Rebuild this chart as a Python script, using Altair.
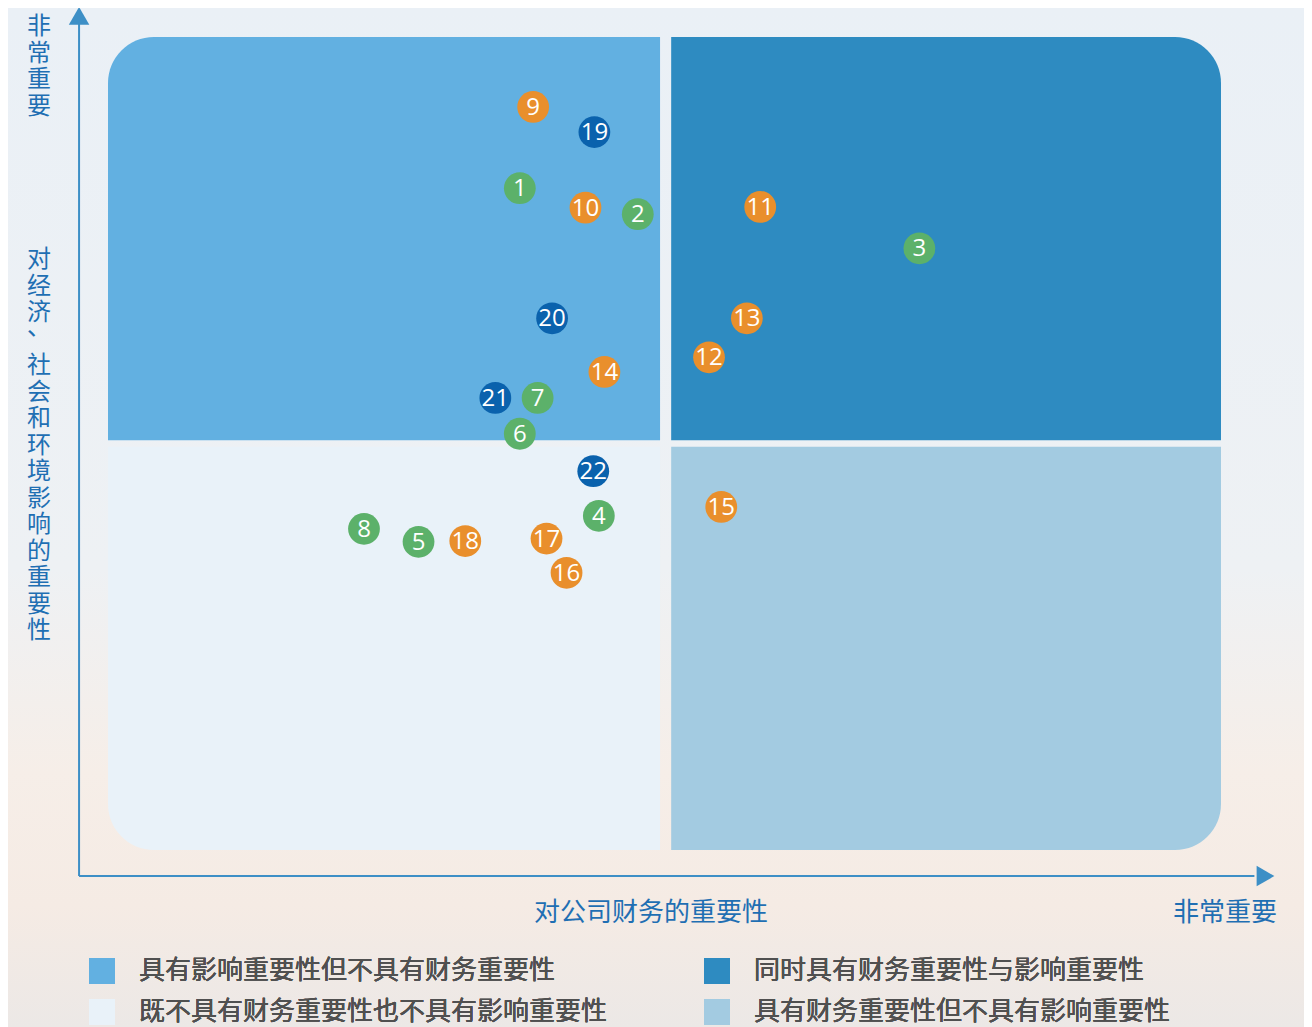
import altair as alt
import pandas as pd

# ---- data ----
ids = [9, 19, 1, 10, 2, 11, 3, 20, 13, 12, 14, 21, 7, 6, 22, 4, 15, 8, 5, 18, 17, 16]
fin = [3.82, 4.37, 3.70, 4.29, 4.76, 5.86, 7.29, 3.99, 5.74, 5.40, 4.46, 3.48, 3.86, 3.70, 4.36, 4.41, 5.51, 2.30, 2.79, 3.21, 3.94, 4.12]
imp = [9.14, 8.83, 8.14, 7.90, 7.82, 7.91, 7.40, 6.54, 6.54, 6.06, 5.88, 5.56, 5.56, 5.12, 4.66, 4.11, 4.22, 3.95, 3.79, 3.80, 3.83, 3.41]
grp = ["E", "S", "G", "E", "G", "E", "G", "S", "E", "E", "E", "S", "G", "G", "S", "G", "E", "G", "G", "E", "E", "E"]

# quadrants listed in legend order (column by column)
quad_labels = ["具有影响重要性但不具有财务重要性", "既不具有财务重要性也不具有影响重要性",
               "同时具有财务重要性与影响重要性", "具有财务重要性但不具有影响重要性"]
quad_x = [0, 0, 5.06, 5.06]
quad_x2 = [4.96, 4.96, 10, 10]
quad_y = [5.04, 0, 5.04, 0]
quad_y2 = [10, 4.96, 10, 4.96]
quad_colors = ["#62b0e1", "#e9f2f9", "#2e8bc1", "#a3cbe1"]

pts = pd.DataFrame({"id": [str(i) for i in ids], "x": fin, "y": imp, "g": grp})
quads = pd.DataFrame({"q": quad_labels, "x": quad_x, "x2": quad_x2, "y": quad_y, "y2": quad_y2})

W, H = 1296, 1019
xs = alt.Scale(domain=[0, 10], range=[100, 1213], nice=False, zero=False)
ys = alt.Scale(domain=[0, 10], range=[842, 29], nice=False, zero=False)
FONT = "Noto Sans CJK SC"
BLUE_TXT = "#1f6fb3"
AXIS_BLUE = "#3d8fc6"

bg = alt.Chart(pd.DataFrame({"a": [0]})).mark_rect(
    color=alt.Gradient(gradient="linear", x1=0, y1=0, x2=0, y2=1, stops=[
        alt.GradientStop(color="#eaf0f6", offset=0),
        alt.GradientStop(color="#eef1f4", offset=0.55),
        alt.GradientStop(color="#f6eee8", offset=0.75),
        alt.GradientStop(color="#f5ebe4", offset=0.88),
        alt.GradientStop(color="#ece8e6", offset=1),
    ])
).encode(x=alt.value(0), x2=alt.value(W), y=alt.value(0), y2=alt.value(H))

color_enc = alt.Color("q:N", scale=alt.Scale(domain=quad_labels, range=quad_colors),
                      legend=alt.Legend(title=None, orient="none", legendX=81, legendY=950,
                                        columns=2, columnPadding=96, rowPadding=15,
                                        symbolType="square", symbolSize=676, symbolStrokeWidth=0,
                                        labelFontSize=26, labelFont=FONT, labelColor="#505050",
                                        labelOffset=24, labelLimit=700, direction="vertical"))

R = 46
corner_map = {
    "具有影响重要性但不具有财务重要性": dict(cornerRadiusTopLeft=R),
    "同时具有财务重要性与影响重要性": dict(cornerRadiusTopRight=R),
    "既不具有财务重要性也不具有影响重要性": dict(cornerRadiusBottomLeft=R),
    "具有财务重要性但不具有影响重要性": dict(cornerRadiusBottomRight=R),
}
quad_layers = []
for lab in quad_labels:
    quad_layers.append(
        alt.Chart(quads).transform_filter(alt.datum.q == lab).mark_rect(**corner_map[lab]).encode(
            x=alt.X("x:Q", scale=xs, axis=None), x2="x2:Q",
            y=alt.Y("y:Q", scale=ys, axis=None), y2="y2:Q",
            color=color_enc)
    )

axis_df = pd.DataFrame({"x0": [-0.26], "y0": [-0.32], "xe": [10.30], "ye": [10.16]})
vrule = alt.Chart(axis_df).mark_rule(color=AXIS_BLUE, strokeWidth=2).encode(
    x=alt.X("x0:Q", scale=xs), y=alt.Y("y0:Q", scale=ys), y2="ye:Q")
hrule = alt.Chart(axis_df).mark_rule(color=AXIS_BLUE, strokeWidth=2).encode(
    x=alt.X("x0:Q", scale=xs), x2="xe:Q", y=alt.Y("y0:Q", scale=ys))
arrow_up = alt.Chart(pd.DataFrame({"x": [-0.26], "y": [10.26]})).mark_point(
    shape="triangle-up", filled=True, size=420, color=AXIS_BLUE, opacity=1).encode(
    x=alt.X("x:Q", scale=xs), y=alt.Y("y:Q", scale=ys))
arrow_right = alt.Chart(pd.DataFrame({"x": [10.40], "y": [-0.32]})).mark_point(
    shape="triangle-right", filled=True, size=420, color=AXIS_BLUE, opacity=1).encode(
    x=alt.X("x:Q", scale=xs), y=alt.Y("y:Q", scale=ys))

circles = alt.Chart(pts).mark_circle(size=1010, opacity=1).encode(
    x=alt.X("x:Q", scale=xs), y=alt.Y("y:Q", scale=ys),
    fill=alt.Fill("g:N", scale=alt.Scale(domain=["E", "G", "S"],
                                         range=["#e98f2c", "#5cb16a", "#0a62ad"]), legend=None))
labels = alt.Chart(pts).mark_text(color="white", font="Open Sans", fontSize=24, dy=1).encode(
    x=alt.X("x:Q", scale=xs), y=alt.Y("y:Q", scale=ys), text="id:N")

def vtext(s):
    return "\n".join(list(s))

one = pd.DataFrame({"a": [0]})
vkw = dict(lineBreak="\n", font=FONT, fontSize=24, lineHeight=26.5, color=BLUE_TXT, baseline="top")
t_top = alt.Chart(one).mark_text(text=vtext("非常重要"), **vkw).encode(
    x=alt.value(31), y=alt.value(7))
t_y1 = alt.Chart(one).mark_text(text=vtext("对经济"), **vkw).encode(
    x=alt.value(31), y=alt.value(240))
t_comma = alt.Chart(one).mark_text(text="、", **vkw).encode(
    x=alt.value(31), y=alt.value(308))
t_y2 = alt.Chart(one).mark_text(text=vtext("社会和环境影响的重要性"), **vkw).encode(
    x=alt.value(31), y=alt.value(346))
t_x = alt.Chart(one).mark_text(
    text="对公司财务的重要性", font=FONT, fontSize=26, color=BLUE_TXT).encode(
    x=alt.value(643), y=alt.value(905))
t_xr = alt.Chart(one).mark_text(
    text="非常重要", font=FONT, fontSize=26, color=BLUE_TXT).encode(
    x=alt.value(1217), y=alt.value(905))

chart = alt.layer(bg, *quad_layers, vrule, hrule, arrow_up, arrow_right, circles, labels,
                  t_top, t_y1, t_comma, t_y2, t_x, t_xr).properties(
    width=W, height=H, autosize=alt.AutoSizeParams(type="none"), padding=0,
    background="#eef1f4"
).configure_view(stroke=None).resolve_scale(color="independent")

chart.save("out.html", embed_options={"renderer": "svg", "actions": False})
